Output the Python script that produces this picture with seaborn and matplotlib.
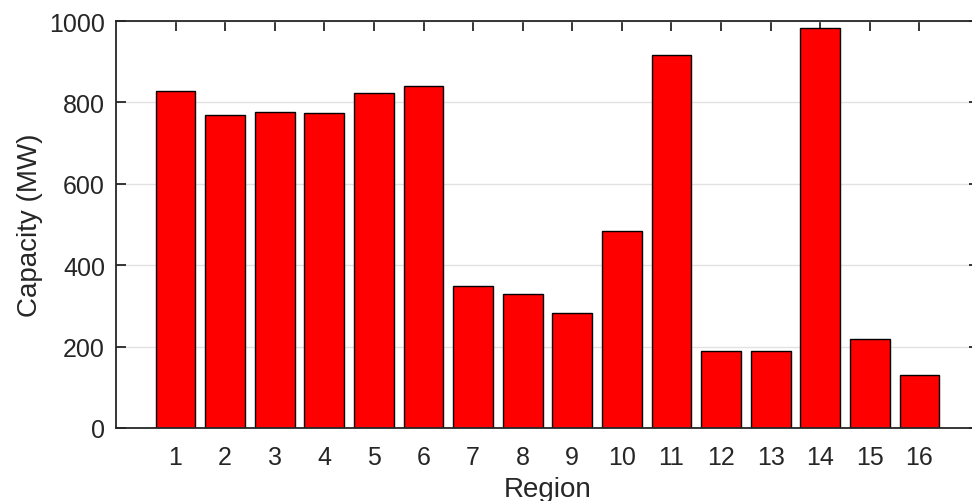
import matplotlib
matplotlib.use("Agg")
import matplotlib.pyplot as plt
import seaborn as sns
import pandas as pd

# Installed capacity per region
regions = list(range(1, 17))
capacity_mw = [827, 770, 776, 774, 823, 841, 349, 329, 282, 485, 916, 188, 190, 982, 218, 129]
y_ticks = [0, 200, 400, 600, 800, 1000]

df = pd.DataFrame({"Region": regions, "Capacity": capacity_mw})

sns.set_theme(style="white")
plt.rcParams["font.family"] = ["Liberation Sans", "DejaVu Sans"]
text_color = "#262626"

fig = plt.figure(figsize=(9.72, 5.02), dpi=100)
ax = fig.add_axes([116 / 972, 73 / 502, 863 / 972, 407 / 502])

sns.barplot(data=df, x="Region", y="Capacity", native_scale=True,
            color="#ff0000", saturation=1, edgecolor="black", linewidth=1.0,
            width=0.8, ax=ax, zorder=3)

ax.set_xlim(-0.2, 17.2)
ax.set_ylim(0, 1000)
ax.set_xticks(regions)
ax.set_xticklabels([str(r) for r in regions])
ax.set_yticks(y_ticks)
ax.set_yticklabels([str(v) for v in y_ticks])

ax.yaxis.grid(True, color="#e2e2e2", linewidth=1.0, zorder=0)
ax.xaxis.grid(False)
ax.set_axisbelow(True)

for side in ["left", "bottom", "top", "right"]:
    ax.spines[side].set_visible(True)
    ax.spines[side].set_color(text_color)
    ax.spines[side].set_linewidth(1.3)
    ax.spines[side].set_zorder(5)

ax.tick_params(axis="both", which="major", direction="in", length=7, width=1.3,
               color=text_color, labelsize=18, labelcolor=text_color,
               top=True, right=True, bottom=True, left=True)
ax.tick_params(axis="x", pad=12.5)
ax.tick_params(axis="y", pad=8)

ax.set_xlabel("Region", fontsize=20, color=text_color, labelpad=5)
ax.set_ylabel("Capacity (MW)", fontsize=20, color=text_color, labelpad=4.5)

fig.savefig("out.png", dpi=100)
